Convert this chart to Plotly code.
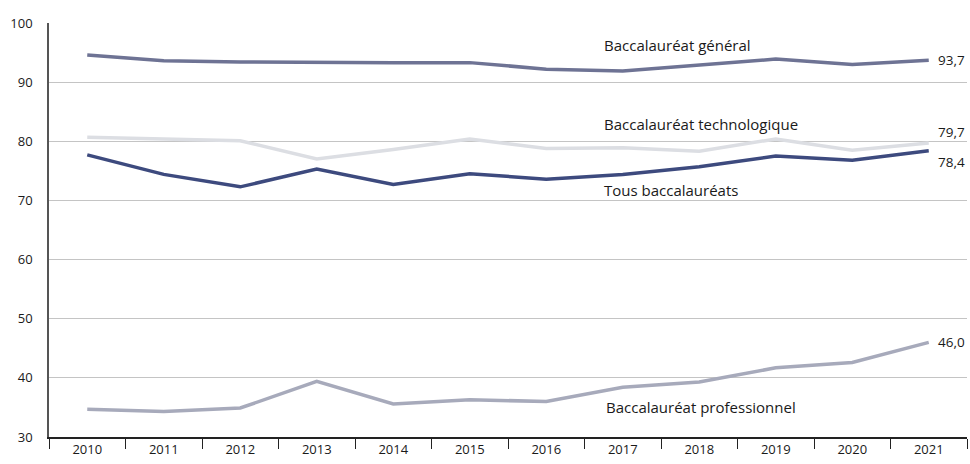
import plotly.graph_objects as go

years = ["2010", "2011", "2012", "2013", "2014", "2015", "2016", "2017", "2018", "2019", "2020", "2021"]
general = [94.6, 93.6, 93.4, 93.3, 93.3, 93.3, 92.2, 91.9, 92.9, 93.9, 93.0, 93.7]
techno = [80.7, 80.4, 80.1, 77.0, 78.6, 80.4, 78.8, 78.9, 78.3, 80.4, 78.5, 79.7]
tous = [77.7, 74.4, 72.3, 75.3, 72.7, 74.5, 73.6, 74.4, 75.7, 77.5, 76.8, 78.4]
pro = [34.7, 34.3, 34.9, 39.4, 35.6, 36.3, 36.0, 38.4, 39.3, 41.7, 42.6, 46.0]

series = [
    ("Baccalauréat technologique", techno, "#dcdee3"),
    ("Baccalauréat professionnel", pro, "#a7aabb"),
    ("Baccalauréat général", general, "#6e7394"),
    ("Tous baccalauréats", tous, "#3d4a7e"),
]

fig = go.Figure()
for name, vals, col in series:
    fig.add_trace(go.Scatter(x=years, y=vals, mode="lines", name=name,
                             line=dict(color=col, width=3.5)))

font = "Open Sans"
labels = [
    ("Baccalauréat général", 6.73, 96.3),
    ("Baccalauréat technologique", 6.73, 82.9),
    ("Tous baccalauréats", 6.73, 71.8),
    ("Baccalauréat professionnel", 6.76, 35.1),
]
for txt, xx, yy in labels:
    fig.add_annotation(x=xx, y=yy, xref="x", yref="y", text=txt, showarrow=False,
                       xanchor="left", yanchor="middle",
                       font=dict(family=font, size=15, color="#1a1a1a"))

last = len(years) - 1
end_labels = [
    ("93,7", general[-1], 0, "middle"),
    ("79,7", techno[-1], 1, "bottom"),
    ("78,4", tous[-1], -1, "top"),
    ("46,0", pro[-1], 0, "middle"),
]
for txt, yy, ys, ya in end_labels:
    fig.add_annotation(x=last, y=yy, xref="x", yref="y", text=txt, showarrow=False,
                       xanchor="left", yanchor=ya, xshift=8, yshift=ys,
                       borderpad=0,
                       font=dict(family=font, size=13.5, color="#1a1a1a"))

fig.update_layout(
    width=970, height=464,
    margin=dict(l=49, r=3, t=23, b=27),
    plot_bgcolor="white", paper_bgcolor="white",
    showlegend=False,
    font=dict(family=font, size=13, color="#1a1a1a"),
)
fig.update_xaxes(type="category", range=[-0.5, 11.5], tickson="boundaries",
                 ticks="outside", ticklen=10, tickcolor="#222", tickwidth=1,
                 showline=True, linecolor="#222", linewidth=1.5,
                 showgrid=False, zeroline=False, automargin=False,
                 tickfont=dict(family=font, size=13, color="#1a1a1a"))
fig.update_yaxes(range=[30, 100], dtick=10, tick0=30,
                 showgrid=True, gridcolor="#c4c4c4", gridwidth=1,
                 showline=True, linecolor="#555", linewidth=1.5,
                 zeroline=False, ticks="", ticklabelstandoff=12, automargin=False,
                 tickfont=dict(family=font, size=13, color="#1a1a1a"))

fig.write_html("out.html", config={"displayModeBar": False},
               post_script="document.body.style.margin='0';document.body.style.overflow='hidden';")
